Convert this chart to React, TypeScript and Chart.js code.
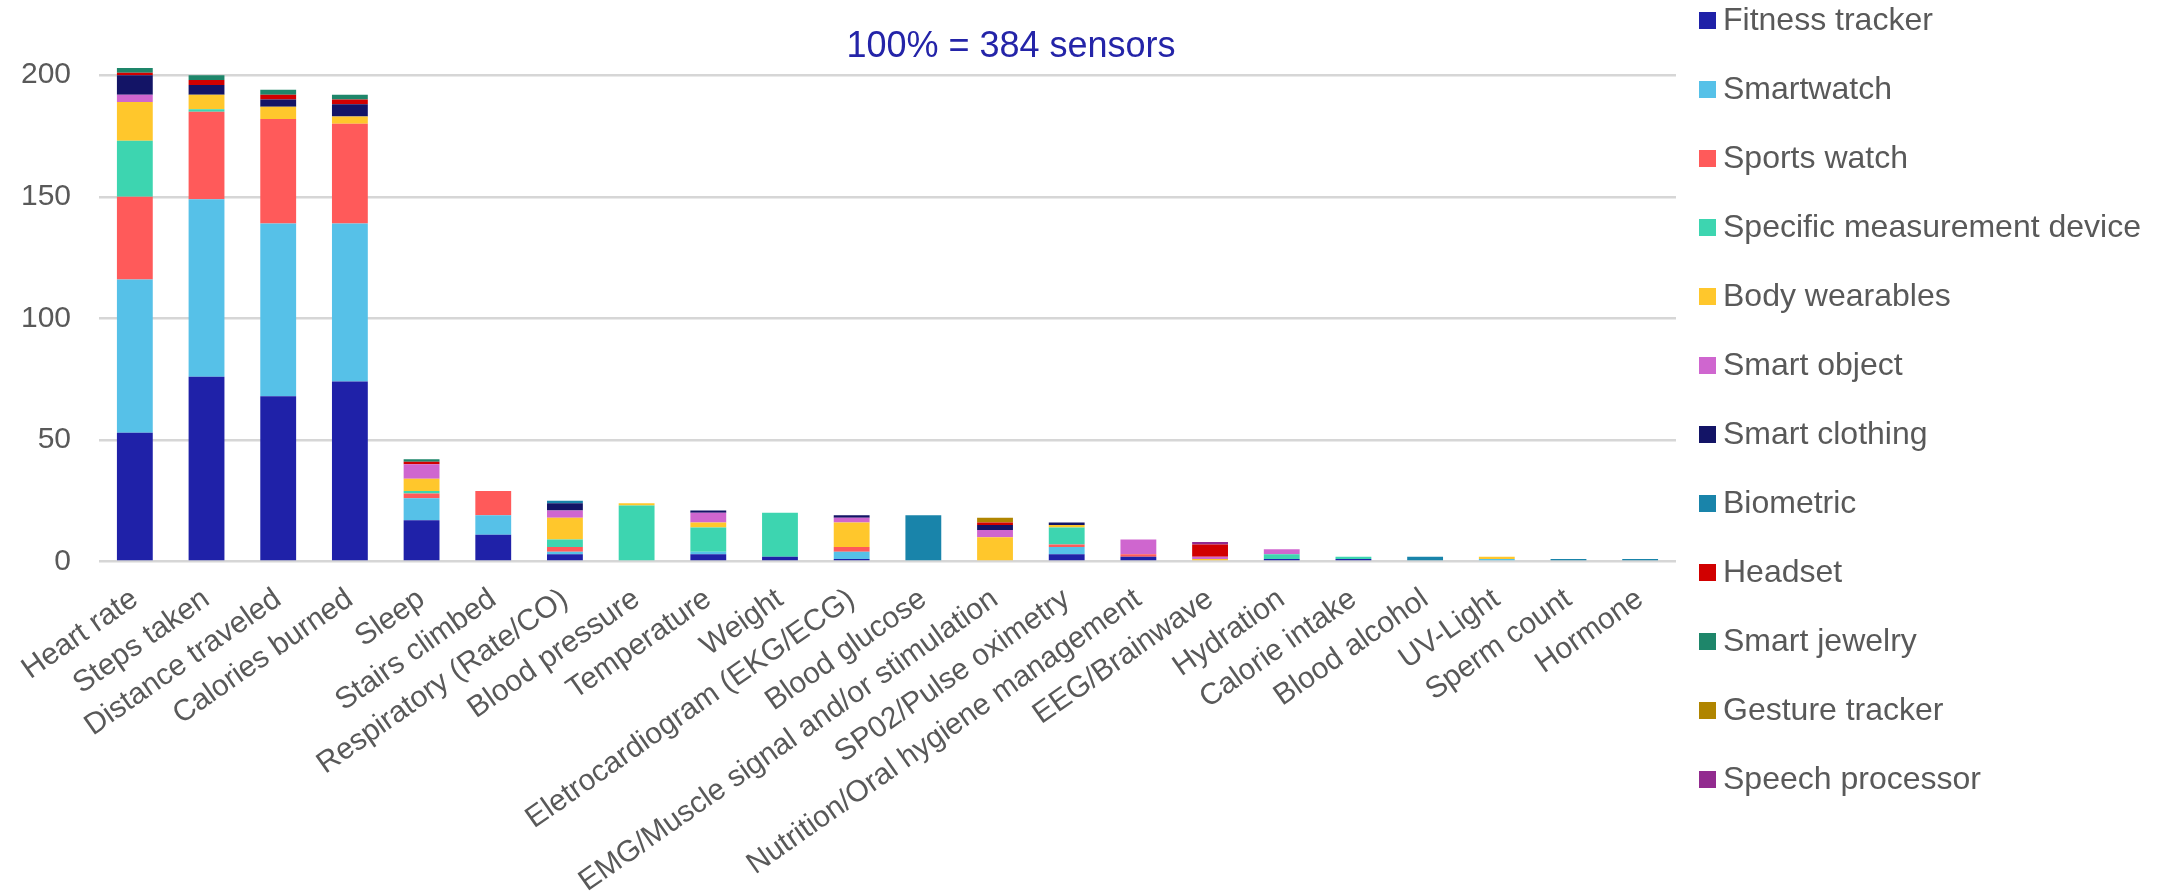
import React, { useEffect, useRef } from 'react';
import { Chart, registerables } from 'chart.js';

Chart.register(...registerables);

const categories = [
  'Heart rate', 'Steps taken', 'Distance traveled', 'Calories burned', 'Sleep',
  'Stairs climbed', 'Respiratory (Rate/CO)', 'Blood pressure', 'Temperature', 'Weight',
  'Eletrocardiogram (EKG/ECG)', 'Blood glucose', 'EMG/Muscle signal and/or stimulation',
  'SP02/Pulse oximetry', 'Nutrition/Oral hygiene management', 'EEG/Brainwave',
  'Hydration', 'Calorie intake', 'Blood alcohol', 'UV-Light', 'Sperm count', 'Hormone',
];

const seriesNames = [
  'Fitness tracker', 'Smartwatch', 'Sports watch', 'Specific measurement device',
  'Body wearables', 'Smart object', 'Smart clothing', 'Biometric', 'Headset',
  'Smart jewelry', 'Gesture tracker', 'Speech processor',
];

const seriesColors = [
  '#1f21a8', '#56c1e8', '#ff5a5a', '#3dd5b0', '#ffc72c', '#cf66cf',
  '#131466', '#1984aa', '#d10000', '#1e866a', '#b08500', '#922b8f',
];

const fitnessTracker   = [53, 76, 68, 74, 17, 11, 3, 0, 3, 2, 1, 0, 0, 3, 2, 0, 1, 1, 0, 0, 0, 0];
const smartwatch       = [63, 73, 71, 65, 9, 8, 1, 0, 1, 0, 3, 0, 0, 3, 0, 0, 0, 0, 0, 1, 0, 0];
const sportsWatch      = [34, 36, 43, 41, 2, 10, 2, 0, 0, 0, 2, 0, 0, 1, 1, 0, 0, 0, 0, 0, 0, 0];
const specificDevice   = [23, 1, 0, 0, 1, 0, 3, 23, 10, 18, 0, 0, 0, 7, 0, 0, 2, 1, 0, 0, 0, 0];
const bodyWearables    = [16, 6, 5, 3, 5, 0, 9, 1, 2, 0, 10, 0, 10, 1, 0, 1, 0, 0, 0, 1, 0, 0];
const smartObject      = [3, 0, 0, 0, 6, 0, 3, 0, 4, 0, 2, 0, 3, 0, 6, 1, 2, 0, 0, 0, 0, 0];
const smartClothing    = [8, 4, 3, 5, 0, 0, 3, 0, 1, 0, 1, 0, 2, 1, 0, 0, 0, 0, 0, 0, 0, 0];
const biometric        = [0, 0, 0, 0, 0, 0, 1, 0, 0, 0, 0, 19, 0, 0, 0, 0, 0, 0, 2, 0, 1, 1];
const headset          = [1, 2, 2, 2, 1, 0, 0, 0, 0, 0, 0, 0, 1, 0, 0, 5, 0, 0, 0, 0, 0, 0];
const smartJewelry     = [2, 2, 2, 2, 1, 0, 0, 0, 0, 0, 0, 0, 0, 0, 0, 0, 0, 0, 0, 0, 0, 0];
const gestureTracker   = [0, 0, 0, 0, 0, 0, 0, 0, 0, 0, 0, 0, 2, 0, 0, 0, 0, 0, 0, 0, 0, 0];
const speechProcessor  = [0, 0, 0, 0, 0, 0, 0, 0, 0, 0, 0, 0, 0, 0, 0, 1, 0, 0, 0, 0, 0, 0];

const seriesValues = [
  fitnessTracker, smartwatch, sportsWatch, specificDevice, bodyWearables, smartObject,
  smartClothing, biometric, headset, smartJewelry, gestureTracker, speechProcessor,
];

const yTicks = [0, 50, 100, 150, 200];
const titleText = '100% = 384 sensors';

const FONT = '"Liberation Sans", Arial, sans-serif';

const overlayPlugin = {
  id: 'overlay',
  afterDraw(chart: any) {
    const ctx = chart.ctx;
    ctx.save();
    ctx.font = `36px ${FONT}`;
    ctx.fillStyle = '#2424a8';
    ctx.textAlign = 'center';
    ctx.textBaseline = 'middle';
    ctx.fillText(titleText, 1011, 47);

    ctx.font = `32px ${FONT}`;
    ctx.textAlign = 'left';
    ctx.textBaseline = 'alphabetic';
    chart.data.datasets.forEach((ds: any, i: number) => {
      const top = 12 + i * 69;
      ctx.fillStyle = ds.backgroundColor;
      ctx.fillRect(1699, top, 17, 17);
      ctx.fillStyle = '#595959';
      ctx.fillText(ds.label, 1723, top + 18);
    });
    ctx.restore();
  },
};

export default function App() {
  const ref = useRef<HTMLCanvasElement>(null);

  useEffect(() => {
    if (!ref.current) return;
    const chart = new Chart(ref.current, {
      type: 'bar',
      data: {
        labels: categories,
        datasets: seriesNames.map((name, i) => ({
          label: name,
          data: seriesValues[i].map((v) => (v === 0 ? null : v)),
          backgroundColor: seriesColors[i],
          borderWidth: 0,
          barPercentage: 0.5,
          categoryPercentage: 1,
        })),
      },
      options: {
        responsive: false,
        animation: false,
        layout: { padding: { top: 8, left: 0, right: 488, bottom: 0 } },
        plugins: {
          legend: { display: false },
          title: { display: false },
          tooltip: { enabled: false },
        },
        scales: {
          x: {
            stacked: true,
            grid: { display: false, drawTicks: false },
            border: { display: false },
            afterFit: (scale: any) => { scale.height = 891 - 561.5; },
            ticks: {
              autoSkip: false,
              minRotation: 35,
              maxRotation: 35,
              padding: 20,
              color: '#595959',
              font: { family: FONT, size: 30 },
            },
          },
          y: {
            stacked: true,
            min: 0,
            max: 212,
            afterFit: (scale: any) => { scale.width = 99; },
            afterBuildTicks: (axis: any) => { axis.ticks = yTicks.map((v) => ({ value: v })); },
            grid: { color: '#d6d6d6', lineWidth: 2.5, drawTicks: false },
            border: { display: false },
            ticks: {
              padding: 28,
              color: '#595959',
              font: { family: FONT, size: 30 },
            },
          },
        },
      },
      plugins: [overlayPlugin],
    });
    return () => chart.destroy();
  }, []);

  return (
    <div style={{ position: 'absolute', left: 0, top: 0, width: 2164, height: 891, background: '#fff' }}>
      <canvas ref={ref} width={2164} height={891} style={{ display: 'block' }} />
    </div>
  );
}
